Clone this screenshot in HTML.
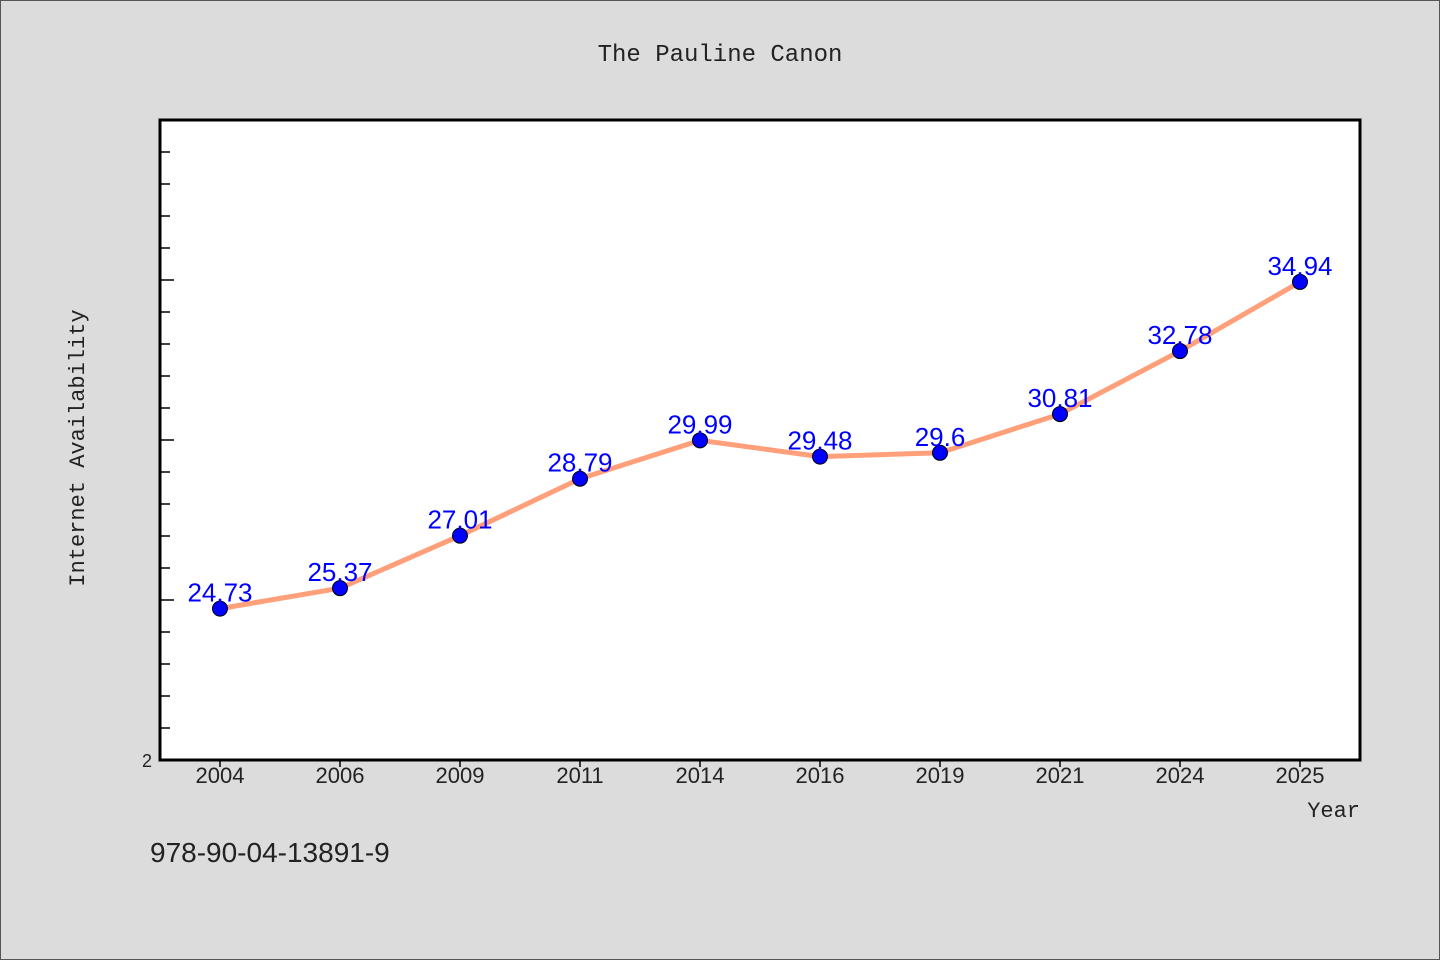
<!DOCTYPE html>
<html><head><meta charset="utf-8"><style>
body{margin:0;background:#dcdcdc;}
svg{display:block}
text{font-family:"WenQuanYi Zen Hei","Liberation Sans",sans-serif;}
</style></head><body>
<svg id="chart" width="1440" height="960" xmlns="http://www.w3.org/2000/svg">
<rect x="0.5" y="0.5" width="1439" height="959" fill="#dcdcdc" stroke="#555" stroke-width="1"/>
<text x="720" y="61" font-size="24" text-anchor="middle" fill="#222" style="font-family:'WenQuanYi Zen Hei Mono','Liberation Mono',monospace">The Pauline Canon</text>
<rect x="160" y="120" width="1200" height="640" fill="#fff"/>
<g id="yticks"></g>
<g id="xticks"></g>
<path id="line" fill="none" stroke="#ffa07a" stroke-width="5" stroke-linejoin="round"/>
<g id="pts"></g>
<rect x="160" y="120" width="1200" height="640" fill="none" stroke="#000" stroke-width="3"/>
<text transform="translate(84,448) rotate(-90)" font-size="22" text-anchor="middle" fill="#222" style="font-family:'WenQuanYi Zen Hei Mono','Liberation Mono',monospace">Internet Availability</text>
<text x="1360" y="817" font-size="22" text-anchor="end" fill="#222" style="font-family:'WenQuanYi Zen Hei Mono','Liberation Mono',monospace">Year</text>
<text x="150" y="862" font-size="28" fill="#222">978-90-04-13891-9</text>
</svg>
<script>
const categories=["2004","2006","2009","2011","2014","2016","2019","2021","2024","2025"];
const values=[24.73,25.37,27.01,28.79,29.99,29.48,29.6,30.81,32.78,34.94];
const yTickValues=[20,21,22,23,24,25,26,27,28,29,30,31,32,33,34,35,36,37,38,39,40];
const yTickLabels=["2"];
const NS="http://www.w3.org/2000/svg";
const X0=160,W=1200,Y0=760,H=640,YMIN=20,YMAX=40;
function x(i){return X0+(i+0.5)*W/categories.length;}
function y(v){return Y0-(v-YMIN)/(YMAX-YMIN)*H;}
function mk(t,a){const e=document.createElementNS(NS,t);for(const k in a)e.setAttribute(k,a[k]);return e;}
const yt=document.getElementById('yticks');
yTickValues.forEach(v=>{const major=(v%5===0);
const l=mk('line',{x1:161,x2:161+(major?13:9),y1:y(v),y2:y(v),stroke:'#000','stroke-width':1.5});


yt.appendChild(l);});
const yl=mk('text',{x:152,y:y(YMIN)+7,'font-size':18,'text-anchor':'end',fill:'#222'});


yl.textContent=yTickLabels[0];yt.appendChild(yl);
const xt=document.getElementById('xticks');
categories.forEach((c,i)=>{
const l=mk('line',{x1:x(i),x2:x(i),y1:761,y2:767,stroke:'#000','stroke-width':1.5});


xt.appendChild(l);
const t=mk('text',{x:x(i),y:783,'font-size':22,'text-anchor':'middle',fill:'#222'});


t.textContent=c;xt.appendChild(t);});
document.getElementById('line').setAttribute('d',values.map((v,i)=>(i?'L':'M')+x(i)+','+y(v)).join(''));
const pts=document.getElementById('pts');
values.forEach((v,i)=>{
const c=mk('circle',{cx:x(i),cy:y(v),r:7.5,fill:'#0000ff',stroke:'#000','stroke-width':1});


pts.appendChild(c);
const t=mk('text',{x:x(i),y:y(v)-7,'font-size':26,'text-anchor':'middle',fill:'#0000ff'});


t.textContent=String(v);pts.appendChild(t);});
</script>
</body></html>
